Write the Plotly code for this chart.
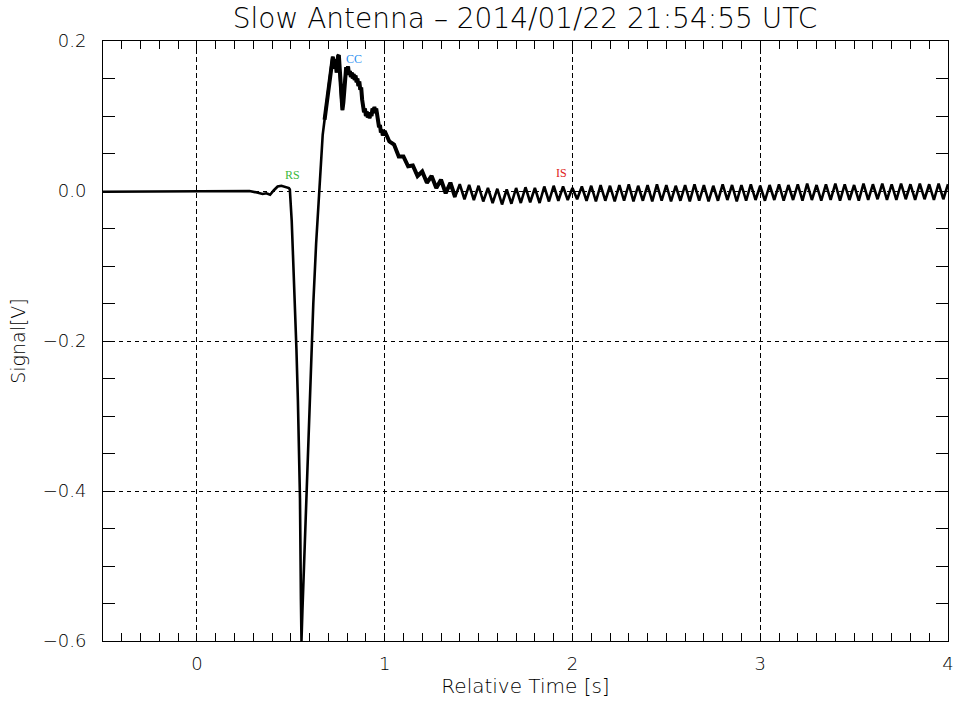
import numpy as np
import plotly.graph_objects as go

# slow antenna record
t_pre = [-0.50, -0.40, -0.30, -0.20, -0.10, 0.00, 0.10, 0.20, 0.28, 0.32,
         0.35, 0.37, 0.39, 0.41, 0.43, 0.45, 0.47, 0.49]
v_pre = [-0.001, -0.001, -0.001, -0.0005, -0.0005, 0.000, 0.000, 0.000, 0.000, -0.002,
         -0.004, -0.003, -0.005, 0.001, 0.006, 0.007, 0.006, 0.004]

t_pulse = [0.495, 0.500, 0.505, 0.511, 0.522, 0.530, 0.538, 0.549, 0.554, 0.557,
           0.562, 0.575, 0.590, 0.605, 0.620, 0.635, 0.650]
v_pulse = [0.002, -0.015, -0.040, -0.080, -0.145, -0.210, -0.280, -0.410, -0.545, -0.600,
           -0.560, -0.470, -0.360, -0.250, -0.150, -0.070, 0.000]

t_cc = [0.660, 0.670, 0.680, 0.690, 0.695, 0.700, 0.705, 0.710, 0.715, 0.720,
        0.724, 0.728, 0.732, 0.736, 0.740, 0.744, 0.748, 0.752, 0.756, 0.760,
        0.765, 0.770, 0.775, 0.780, 0.785, 0.790, 0.795, 0.800, 0.805, 0.810,
        0.815, 0.820, 0.825, 0.830, 0.835, 0.840, 0.845, 0.850, 0.855, 0.860,
        0.865, 0.870, 0.875, 0.880, 0.885, 0.890, 0.895, 0.900, 0.905, 0.910,
        0.915, 0.920, 0.925, 0.930, 0.935, 0.940, 0.945, 0.950, 0.955, 0.960,
        0.965, 0.970, 0.975, 0.980, 0.985, 0.990, 0.995]
v_cc = [0.040, 0.075, 0.095, 0.115, 0.125, 0.135, 0.150, 0.158, 0.168, 0.176,
        0.179, 0.168, 0.176, 0.163, 0.170, 0.158, 0.172, 0.180, 0.181, 0.160,
        0.135, 0.118, 0.108, 0.118, 0.140, 0.155, 0.165, 0.160, 0.166, 0.155,
        0.160, 0.152, 0.158, 0.150, 0.156, 0.148, 0.154, 0.145, 0.150, 0.140,
        0.146, 0.135, 0.138, 0.122, 0.115, 0.105, 0.110, 0.100, 0.106, 0.098,
        0.104, 0.097, 0.105, 0.100, 0.110, 0.104, 0.112, 0.106, 0.110, 0.098,
        0.094, 0.085, 0.088, 0.078, 0.082, 0.074, 0.078]

# after 1 s: ~20 Hz ripple, one sample every 25 ms
t_tail = list(np.round(np.arange(1.0, 4.0001, 0.025), 3))
v_tail = [0.080, 0.066, 0.062, 0.046, 0.046, 0.033, 0.034, 0.020, 0.026, 0.011,
          0.020, 0.004, 0.015, -0.003, 0.011, -0.008, 0.009, -0.011, 0.008, -0.012,
          0.007, -0.014, 0.004, -0.016, 0.003, -0.018, 0.002, -0.017, 0.004, -0.016,
          0.005, -0.015, 0.004, -0.016, 0.006, -0.014, 0.007, -0.013, 0.006, -0.012,
          0.004, -0.011, 0.006, -0.013, 0.007, -0.014, 0.008, -0.013, 0.007, -0.014,
          0.008, -0.013, 0.009, -0.014, 0.007, -0.013, 0.008, -0.014, 0.009, -0.013,
          0.008, -0.014, 0.007, -0.013, 0.008, -0.014, 0.009, -0.013, 0.008, -0.014,
          0.007, -0.013, 0.009, -0.012, 0.008, -0.014, 0.008, -0.013, 0.009, -0.012,
          0.007, -0.013, 0.008, -0.012, 0.009, -0.013, 0.008, -0.012, 0.009, -0.013,
          0.010, -0.012, 0.008, -0.013, 0.009, -0.012, 0.010, -0.013, 0.009, -0.012,
          0.008, -0.013, 0.010, -0.012, 0.009, -0.011, 0.010, -0.012, 0.009, -0.012,
          0.010, -0.011, 0.009, -0.012, 0.010, -0.011, 0.009, -0.012, 0.010, -0.011,
          0.009]

labels = ["RS", "CC", "IS"]
label_t = [0.51, 0.835, 1.94]
label_v = [0.021, 0.176, 0.024]
label_col = ["#3cb93c", "#2b8ff0", "#e02020"]

t = t_pre + t_pulse + t_cc + t_tail
v = v_pre + v_pulse + v_cc + v_tail

font = "DejaVu Sans"

fig = go.Figure()
fig.add_trace(go.Scatter(x=t, y=v, mode="lines",
                         line=dict(color="black", width=2.6), showlegend=False))
# the noisy stretch after the return stroke reads as a thicker band
n0 = len(t_pre) + len(t_pulse) + 2
n1 = len(t_pre) + len(t_pulse) + len(t_cc) + 16
fig.add_trace(go.Scatter(x=t[n0:n1], y=v[n0:n1], mode="lines",
                         line=dict(color="black", width=4), showlegend=False))

for name, x0, y0, c in zip(labels, label_t, label_v, label_col):
    fig.add_annotation(x=x0, y=y0, text=name, showarrow=False,
                       font=dict(family="Liberation Serif", size=12, color=c))

fig.update_layout(
    width=954, height=706,
    margin=dict(l=103, r=6, t=41, b=65),
    paper_bgcolor="white", plot_bgcolor="white",
    title=dict(text="Slow Antenna \u2013 2014/01/22 21:54:55 UTC",
               x=0.5503, xanchor="center", y=0.974, yanchor="middle",
               font=dict(family=font, size=28, color="black", weight=300)),
    font=dict(family=font, color="black", weight=300),
)

fig.update_xaxes(
    range=[-0.5, 4.0], dtick=1, tick0=0, automargin=False,
    showline=True, linecolor="black", linewidth=1, mirror="allticks",
    ticks="inside", ticklen=8, tickcolor="black",
    minor=dict(dtick=0.1, tick0=0, ticks="inside", ticklen=8, tickcolor="black"),
    showgrid=True, gridcolor="black", gridwidth=1, griddash="5px,3px",
    zeroline=False, tickfont=dict(size=18), ticklabelstandoff=6,
    title=dict(text="Relative Time [s]", font=dict(size=20), standoff=4),
)
fig.update_yaxes(
    range=[-0.6, 0.2], dtick=0.2, tick0=0, tickformat=".1f", automargin=False,
    showline=True, linecolor="black", linewidth=1, mirror="allticks",
    ticks="inside", ticklen=12, tickcolor="black",
    minor=dict(dtick=0.05, tick0=0, ticks="inside", ticklen=12, tickcolor="black"),
    showgrid=True, gridcolor="black", gridwidth=1, griddash="4px,4px",
    zeroline=False, tickfont=dict(size=18), ticklabelstandoff=12,
    title=dict(text="Signal[V]", font=dict(size=19), standoff=12),
)

# drop the default 8px page margin so the figure fills the window exactly
fig.write_html("out.html", config={"displayModeBar": False},
               post_script="document.body.style.margin='0px';")
